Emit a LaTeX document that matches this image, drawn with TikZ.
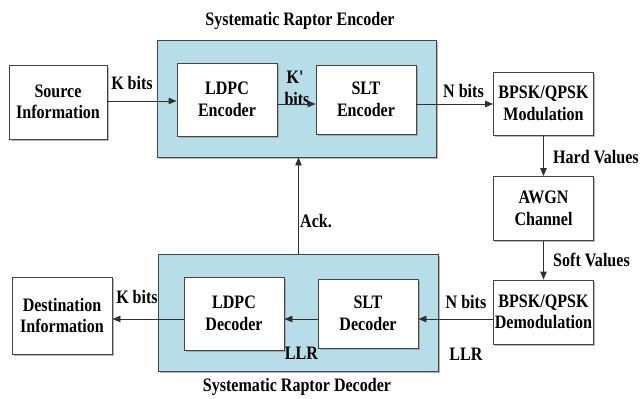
\documentclass[tikz,border=0pt]{standalone}
\usepackage{fontspec}
\newfontfamily\labfont{Liberation Serif Bold}[FakeStretch=0.845]
\usetikzlibrary{arrows.meta,shadows}
\definecolor{bluebg}{HTML}{B7DDE8}
\definecolor{edgecol}{HTML}{454545}
\definecolor{linecol}{HTML}{303030}
\begin{document}
\begin{tikzpicture}[x=1pt,y=-1pt,
  txt/.style={font=\labfont\fontsize{19}{21.5}\selectfont, inner sep=0pt, text=black},
  blk/.style={txt, draw=edgecol, line width=0.9pt, fill=white, align=center,
    drop shadow={shadow xshift=1.6pt, shadow yshift=-1.6pt, fill=black!40, opacity=0.7}},
  grp/.style={draw=edgecol, line width=0.9pt, fill=bluebg,
    drop shadow={shadow xshift=1.6pt, shadow yshift=-1.6pt, fill=black!40, opacity=0.7}},
  arr/.style={draw=linecol, line width=0.9pt, -{Triangle[length=8pt,width=6.5pt]}},
  lbl/.style={txt, anchor=base}
]
\useasboundingbox (0,0) rectangle (641,399);
% group boxes
\node[grp, minimum width=279pt, minimum height=117pt] (encbg) at (296.5,98.5) {};
\node[grp, minimum width=280pt, minimum height=117pt] (decbg) at (298.5,312.5) {};
% blocks
\node[blk, minimum width=98pt, minimum height=74pt] (src) at (58,102) {Source\\Information};
\node[blk, minimum width=100pt, minimum height=73pt] (ldpce) at (227,99.5) {LDPC\\Encoder};
\node[blk, minimum width=100pt, minimum height=69pt] (slte) at (366,99.5) {SLT\\Encoder};
\node[blk, minimum width=100pt, minimum height=63pt] (mod) at (543.5,103.5) {BPSK/QPSK\\Modulation};
\node[blk, minimum width=100pt, minimum height=64pt] (awgn) at (543.5,208.5) {AWGN\\Channel};
\node[blk, minimum width=100pt, minimum height=64pt] (demod) at (543.5,312) {BPSK/QPSK\\Demodulation};
\node[blk, minimum width=100pt, minimum height=69pt] (sltd) at (368,313.5) {SLT\\Decoder};
\node[blk, minimum width=100pt, minimum height=73pt] (ldpcd) at (234,313.5) {LDPC\\Decoder};
\node[blk, minimum width=100pt, minimum height=77pt] (dest) at (62,315.5) {Destination\\Information};
% titles and labels
\node[lbl] (enctitle) at (300,25) {Systematic Raptor Encoder};
\node[lbl] (dectitle) at (297,391) {Systematic Raptor Decoder};
\node[lbl] (kbits1) at (132,89) {K bits};
\node[lbl] (kp) at (295,83) {K'};
\node[lbl] (kpbits) at (297,105) {bits};
\node[lbl] (nbits1) at (463.5,97) {N bits};
\node[lbl, anchor=base west] (hard) at (553,163) {Hard Values};
\node[lbl, anchor=base west] (soft) at (553,266) {Soft Values};
\node[lbl, anchor=base west] (ack) at (300,227) {Ack.};
\node[lbl] (nbits2) at (466,308) {N bits};
\node[lbl] (kbits2) at (137,303) {K bits};
\node[lbl] (llr1) at (301.5,359) {LLR};
\node[lbl] (llr2) at (466,360) {LLR};
% connectors
\coordinate (y1) at (0,101);
\coordinate (y2) at (0,104);
\coordinate (y3) at (0,319);
\draw[arr] (src.east |- y1) -- (ldpce.west |- y1);
\draw[arr] (ldpce.east |- y2) -- (slte.west |- y2);
\draw[arr] (slte.east |- y2) -- (mod.west |- y2);
\draw[arr] (mod.south) -- (awgn.north);
\draw[arr] (awgn.south) -- (demod.north);
\draw[arr] (demod.west |- y3) -- (sltd.east |- y3);
\draw[arr] (sltd.west |- y3) -- (ldpcd.east |- y3);
\draw[arr] (ldpcd.west |- y3) -- (dest.east |- y3);
\draw[arr] (decbg.north) -- (decbg.north |- encbg.south);
\end{tikzpicture}
\end{document}
